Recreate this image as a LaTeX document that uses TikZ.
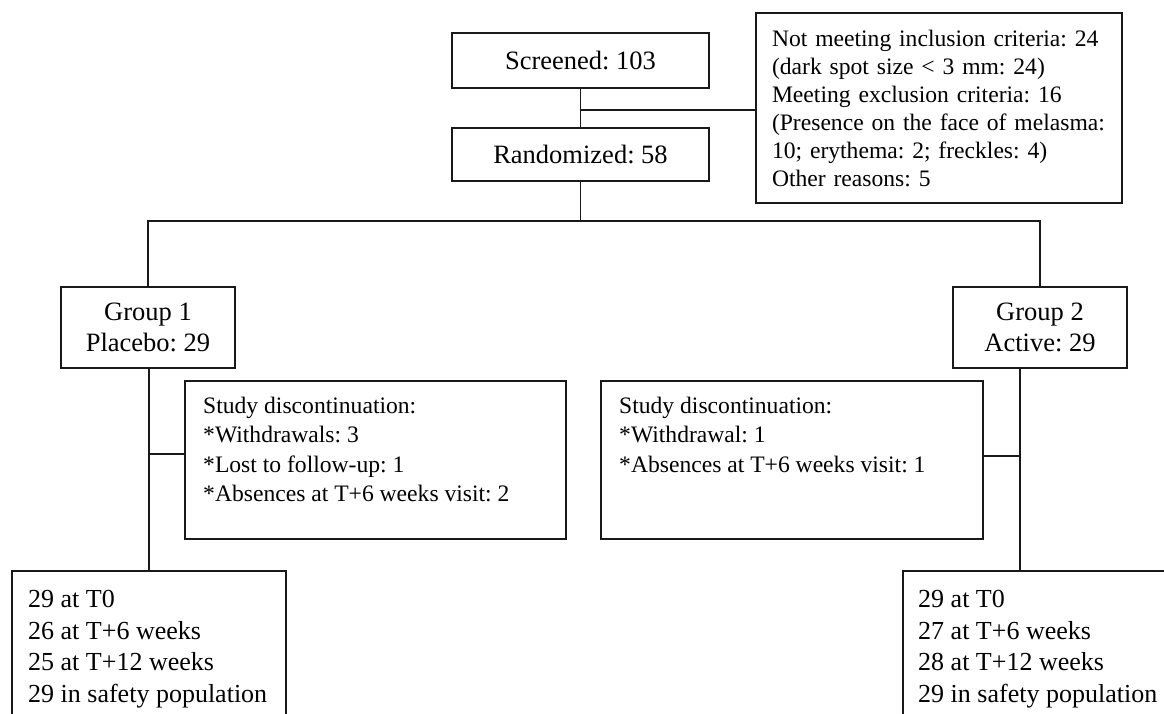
\documentclass[tikz,border=0pt]{standalone}
\usepackage{fontspec}
\setmainfont{Liberation Serif}
\frenchspacing
\begin{document}
\begin{tikzpicture}[x=1pt,y=-1pt,
  box/.style={draw=black!90, line width=1.4pt, rectangle, inner sep=0pt, outer sep=0pt},
  bigtext/.style={font=\fontsize{26.5}{31}\selectfont},
  smalltext/.style={font=\fontsize{23.6}{28}\selectfont},
  disctext/.style={font=\fontsize{23.6}{29.3}\selectfont, align=left, anchor=north west, inner sep=0pt},
  finaltext/.style={font=\fontsize{26}{31.5}\selectfont, align=left, anchor=north west, inner sep=0pt},
  conn/.style={draw=black!90, line width=1.4pt}]
\useasboundingbox (0,0) rectangle (1164,713);
\clip (0,0) rectangle (1164,713);

% top boxes
\node[box, bigtext, minimum width=257pt, minimum height=55pt] (screened) at (580.5,60.5) {Screened: 103};
\node[box, bigtext, minimum width=257pt, minimum height=53pt] (randomized) at (580.5,154.5) {Randomized: 58};
\node[box, smalltext, align=left, text width=334pt, inner xsep=16pt, inner ysep=0pt, minimum height=190pt] (excl) at (939,108)
  {Not meeting inclusion criteria: 24\\
   (dark spot size < 3 mm: 24)\\
   Meeting exclusion criteria: 16\\
   (Presence on the face of melasma:\\
   10; erythema: 2; freckles: 4)\\
   Other reasons: 5};

% groups
\node[box, bigtext, align=center, minimum width=174pt, minimum height=81pt] (group1) at (148,327.5) {Group 1\\Placebo: 29};
\node[box, bigtext, align=center, minimum width=174pt, minimum height=81pt] (group2) at (1040,327.5) {Group 2\\Active: 29};

% discontinuation boxes
\node[box, minimum width=381pt, minimum height=158pt] (disc1) at (375.5,460) {};
\node[disctext] (disc1t) at (203,397) {Study discontinuation:\\
  *Withdrawals: 3\\
  *Lost to follow-up: 1\\
  *Absences at T+6 weeks visit: 2};
\node[box, minimum width=382pt, minimum height=158pt] (disc2) at (792,460) {};
\node[disctext] (disc2t) at (619,397) {Study discontinuation:\\
  *Withdrawal: 1\\
  *Absences at T+6 weeks visit: 1};

% final boxes
\node[box, minimum width=274pt, minimum height=170pt] (final1) at (149,656) {};
\node[finaltext] (final1t) at (28,590) {29 at T0\\
  26 at T+6 weeks\\
  25 at T+12 weeks\\
  29 in safety population};
\node[box, minimum width=290pt, minimum height=170pt] (final2) at (1048,656) {};
\node[finaltext] (final2t) at (918,590) {29 at T0\\
  27 at T+6 weeks\\
  28 at T+12 weeks\\
  29 in safety population};

% connectors
\coordinate (b1) at (580.5,110);
\draw[conn] (screened.south) -- (randomized.north);
\draw[conn] (b1) -- (b1 -| excl.west);

\coordinate (b2) at (580.5,221);
\draw[conn] (randomized.south) -- (b2);
\draw[conn] (group1.north) -- (group1.north |- b2) -- (group2.north |- b2) -- (group2.north);

\coordinate (g1s) at (149,368);
\draw[conn] (g1s) -- (g1s |- final1.north);
\coordinate (j1) at (149,454);
\draw[conn] (j1) -- (j1 -| disc1.west);

\coordinate (g2s) at (1020,368);
\draw[conn] (g2s) -- (g2s |- final2.north);
\coordinate (j2) at (1020,456);
\draw[conn] (j2) -- (j2 -| disc2.east);
\end{tikzpicture}
\end{document}
